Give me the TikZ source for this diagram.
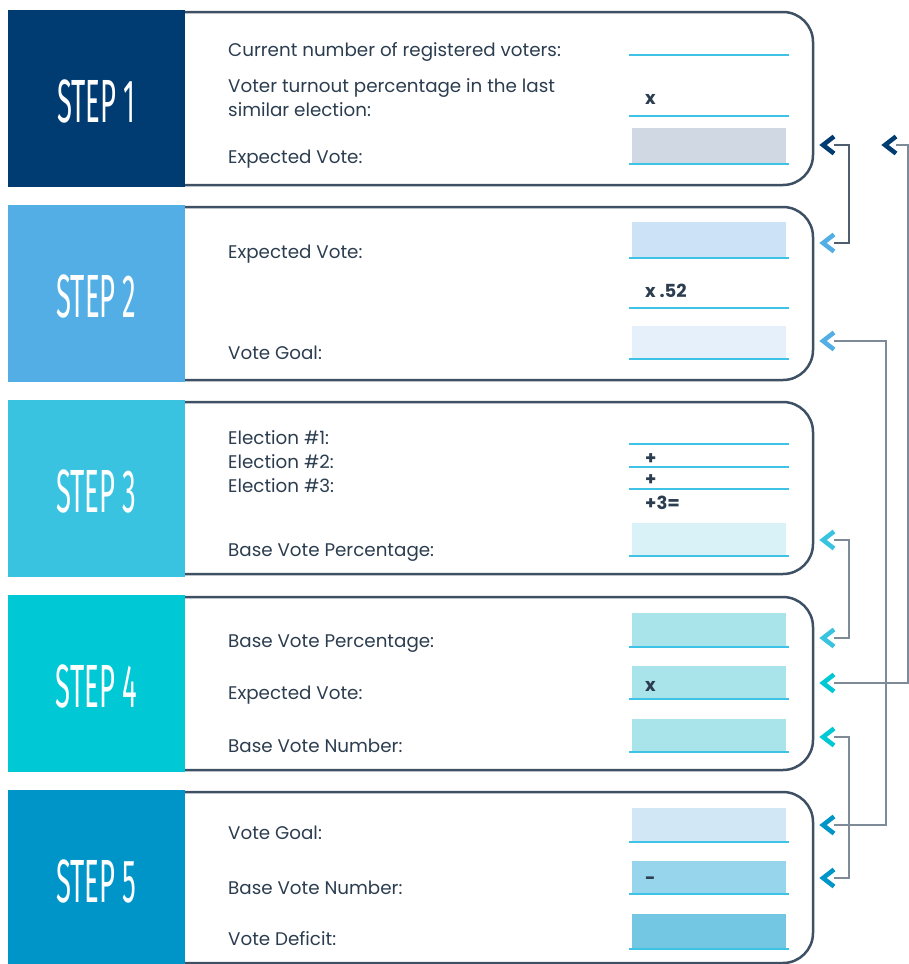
\documentclass[tikz,border=0pt]{standalone}
\usepackage{fontspec}
\setmainfont{Poppins}
\newfontfamily\stepfont{Fira Sans}
\usetikzlibrary{calc}

\definecolor{stepA}{HTML}{003C71}
\definecolor{stepB}{HTML}{52AEE5}
\definecolor{stepC}{HTML}{3AC3E1}
\definecolor{stepD}{HTML}{00C8D5}
\definecolor{stepE}{HTML}{0095C9}
\definecolor{frameC}{HTML}{3E5063}
\definecolor{txt}{HTML}{2B3D4F}
\definecolor{ruleC}{HTML}{3EC3E6}
\definecolor{connDark}{HTML}{4E5E6E}
\definecolor{connLight}{HTML}{7D8B98}
\definecolor{fA}{HTML}{CFD8E3}
\definecolor{fBa}{HTML}{CCE2F6}
\definecolor{fBb}{HTML}{E6F0FA}
\definecolor{fC}{HTML}{D9F2F7}
\definecolor{fD}{HTML}{A8E4EA}
\definecolor{fEa}{HTML}{D1E7F5}
\definecolor{fEb}{HTML}{97D5EC}
\definecolor{fEc}{HTML}{74C7E3}

\newcommand{\steptitle}[1]{\scalebox{0.45}[1]{\stepfont\fontsize{61}{61}\selectfont #1}}

\begin{document}
\begin{tikzpicture}[x=1pt,y=-1pt,
  frame/.style={draw=frameC, line width=2.5pt, rounded corners=30pt},
  lbl/.style={anchor=base west, inner sep=0pt, text=txt, font=\fontsize{18.3}{22}\selectfont},
  val/.style={anchor=base west, inner sep=0pt, text=txt, font=\bfseries\fontsize{18}{22}\selectfont},
  steplbl/.style={text=white, inner sep=0pt},
  rule/.style={draw=ruleC, line width=2pt},
  chev/.style={line width=4.5pt, miter limit=10},
  conn/.style={line width=2.5pt, draw=connLight}]

\useasboundingbox (0,0) rectangle (909,964);

% ---- frames (right side rounded) ----
\draw[frame] (170,12)  -- (813,12)  -- (813,185) -- (170,185);
\draw[frame] (170,207) -- (813,207) -- (813,380) -- (170,380);
\draw[frame] (170,402) -- (813,402) -- (813,574) -- (170,574);
\draw[frame] (170,597) -- (813,597) -- (813,770) -- (170,770);
\draw[frame] (170,792) -- (813,792) -- (813,963) -- (170,963);

% ---- coloured step squares ----
\fill[stepA] (8,10)  rectangle (185,187);
\fill[stepB] (8,205) rectangle (185,382);
\fill[stepC] (8,400) rectangle (185,577);
\fill[stepD] (8,595) rectangle (185,772);
\fill[stepE] (8,790) rectangle (185,964);

\node[steplbl] (t1) at (96.5,101) {\steptitle{STEP 1}};
\node[steplbl] (t2) at (96.5,296) {\steptitle{STEP 2}};
\node[steplbl] (t3) at (96.5,491) {\steptitle{STEP 3}};
\node[steplbl] (t4) at (96.5,686) {\steptitle{STEP 4}};
\node[steplbl] (t5) at (96.5,881) {\steptitle{STEP 5}};

% ---- step 1 ----
\node[lbl] (a1) at (228,56)  {Current number of registered voters:};
\node[lbl] (a2) at (228,92)  {Voter turnout percentage in the last};
\node[lbl] (a3) at (228,116) {similar election:};
\node[lbl] (a4) at (228,163) {Expected Vote:};
\draw[rule] (629,55) -- (789,55);
\node[val] (v1) at (645,104) {x};
\draw[rule] (629,116) -- (789,116);
\fill[fA] (632,128) rectangle (786,164);
\draw[rule] (629,164) -- (789,164);

% ---- step 2 ----
\node[lbl] (b1) at (228,258) {Expected Vote:};
\node[lbl] (b2) at (228,359) {Vote Goal:};
\fill[fBa] (632,222) rectangle (786,258);
\draw[rule] (629,258) -- (789,258);
\node[val] (v2) at (645,297) {x .52};
\draw[rule] (629,308) -- (789,308);
\fill[fBb] (632,326) rectangle (786,359);
\draw[rule] (629,359) -- (789,359);

% ---- step 3 ----
\node[lbl] (c1) at (228,444) {Election \#1:};
\node[lbl] (c2) at (228,468) {Election \#2:};
\node[lbl] (c3) at (228,492) {Election \#3:};
\node[lbl] (c4) at (228,556) {Base Vote Percentage:};
\draw[rule] (629,444) -- (789,444);
\node[val] (v3) at (645,464) {+};
\draw[rule] (629,467) -- (789,467);
\node[val] (v4) at (645,485) {+};
\draw[rule] (629,489) -- (789,489);
\node[val] (v5) at (645,509) {+3=};
\fill[fC] (632,523) rectangle (786,556);
\draw[rule] (629,556) -- (789,556);

% ---- step 4 ----
\node[lbl] (d1) at (228,647) {Base Vote Percentage:};
\node[lbl] (d2) at (228,699) {Expected Vote:};
\node[lbl] (d3) at (228,752) {Base Vote Number:};
\fill[fD] (632,613) rectangle (786,647);
\draw[rule] (629,647) -- (789,647);
\fill[fD] (632,666) rectangle (786,699);
\node[val] (v6) at (645,691) {x};
\draw[rule] (629,699) -- (789,699);
\fill[fD] (632,719) rectangle (786,752);
\draw[rule] (629,752) -- (789,752);

% ---- step 5 ----
\node[lbl] (e1) at (228,839) {Vote Goal:};
\node[lbl] (e2) at (228,894) {Base Vote Number:};
\node[lbl] (e3) at (228,945) {Vote Deficit:};
\fill[fEa] (632,808) rectangle (786,842);
\draw[rule] (629,842) -- (789,842);
\fill[fEb] (632,861) rectangle (786,894);
\node[val] (v7) at (645,884) {-};
\draw[rule] (629,894) -- (789,894);
\fill[fEc] (632,914) rectangle (786,949);
\draw[rule] (629,949) -- (789,949);

% ---- ports on the right edge of the frames ----
\coordinate (p1)  at (823,145);
\coordinate (q1)  at (885,145);
\coordinate (p2a) at (823,243);
\coordinate (p2b) at (823,341);
\coordinate (p3)  at (823,540);
\coordinate (p4a) at (823,638);
\coordinate (p4b) at (823,683);
\coordinate (p4c) at (823,737);
\coordinate (p5a) at (823,825);
\coordinate (p5b) at (823,878);

% ---- connectors ----
\draw[conn, draw=connDark] ($(p1)+(11,0)$) -- (849,145) |- ($(p2a)+(11,0)$);
\draw[conn] ($(q1)+(11,0)$) -- (908,145) |- ($(p4b)+(11,0)$);
\draw[conn] ($(p2b)+(11,0)$) -- (886,341) |- ($(p5a)+(11,0)$);
\draw[conn] ($(p3)+(11,0)$) -- (849,540) |- ($(p4a)+(11,0)$);
\draw[conn] ($(p4c)+(11,0)$) -- (849,737) |- ($(p5b)+(11,0)$);

% ---- chevron arrowheads ----
\foreach \p/\c in {p1/stepA, q1/stepA, p2a/stepB, p2b/stepB, p3/stepC,
                   p4a/stepC, p4b/stepD, p4c/stepD, p5a/stepE, p5b/stepE}
  \draw[chev, draw=\c] ($(\p)+(11,-8.5)$) -- (\p) -- ($(\p)+(11,8.5)$);

\end{tikzpicture}
\end{document}
